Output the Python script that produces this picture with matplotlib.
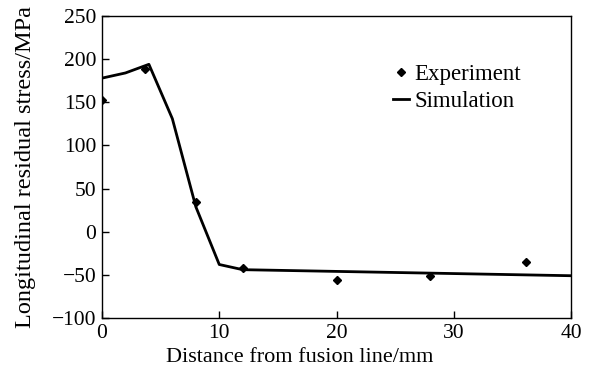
import matplotlib
matplotlib.use("Agg")
import matplotlib.pyplot as plt

# dados
sim_x = [0, 2, 4, 6, 8, 10, 12, 40]
sim_y = [178, 184, 194, 131, 29, -38, -44, -51]

exp_x = [0, 3.7, 8, 12, 20, 28, 36.2]
exp_y = [153, 188, 34, -42, -56, -51, -35]

x_ticks = [0, 10, 20, 30, 40]
y_ticks = [-100, -50, 0, 50, 100, 150, 200, 250]

plt.rcParams['font.family'] = ['Liberation Serif', 'DejaVu Serif']
plt.rcParams['font.size'] = 15.5

fig = plt.figure(figsize=(5.89, 3.76), dpi=100)
ax = fig.add_axes([102 / 589, 1 - 318 / 376, 469 / 589, 302 / 376])

ax.plot(exp_x, exp_y, linestyle='none', marker='D', markersize=4.5,
        color='black', label='Experiment')
ax.plot(sim_x, sim_y, color='black', linewidth=2, label='Simulation')

ax.set_xlim(0, 40)
ax.set_ylim(-100, 250)
ax.set_xticks(x_ticks)
ax.set_yticks(y_ticks)
ax.tick_params(direction='in', length=5, width=1, pad=4)
for s in ax.spines.values():
    s.set_linewidth(1)

ax.set_xlabel('Distance from fusion line/mm', fontsize=16)
ax.set_ylabel('Longitudinal residual stress/MPa', fontsize=17.5)
ax.xaxis.set_label_coords(0.422, -0.13)
ax.yaxis.set_label_coords(-0.164, 0.5)
ax.xaxis.label.set_va('center')
ax.yaxis.label.set_va('center')

ax.legend(loc='upper left', bbox_to_anchor=(393 / 589, 1 - 64 / 376),
          bbox_transform=fig.transFigure, frameon=False,
          borderpad=0, borderaxespad=0,
          handlelength=0.7, handletextpad=0.25, labelspacing=0.25,
          fontsize=16.5)

fig.savefig('out.png', dpi=100)
